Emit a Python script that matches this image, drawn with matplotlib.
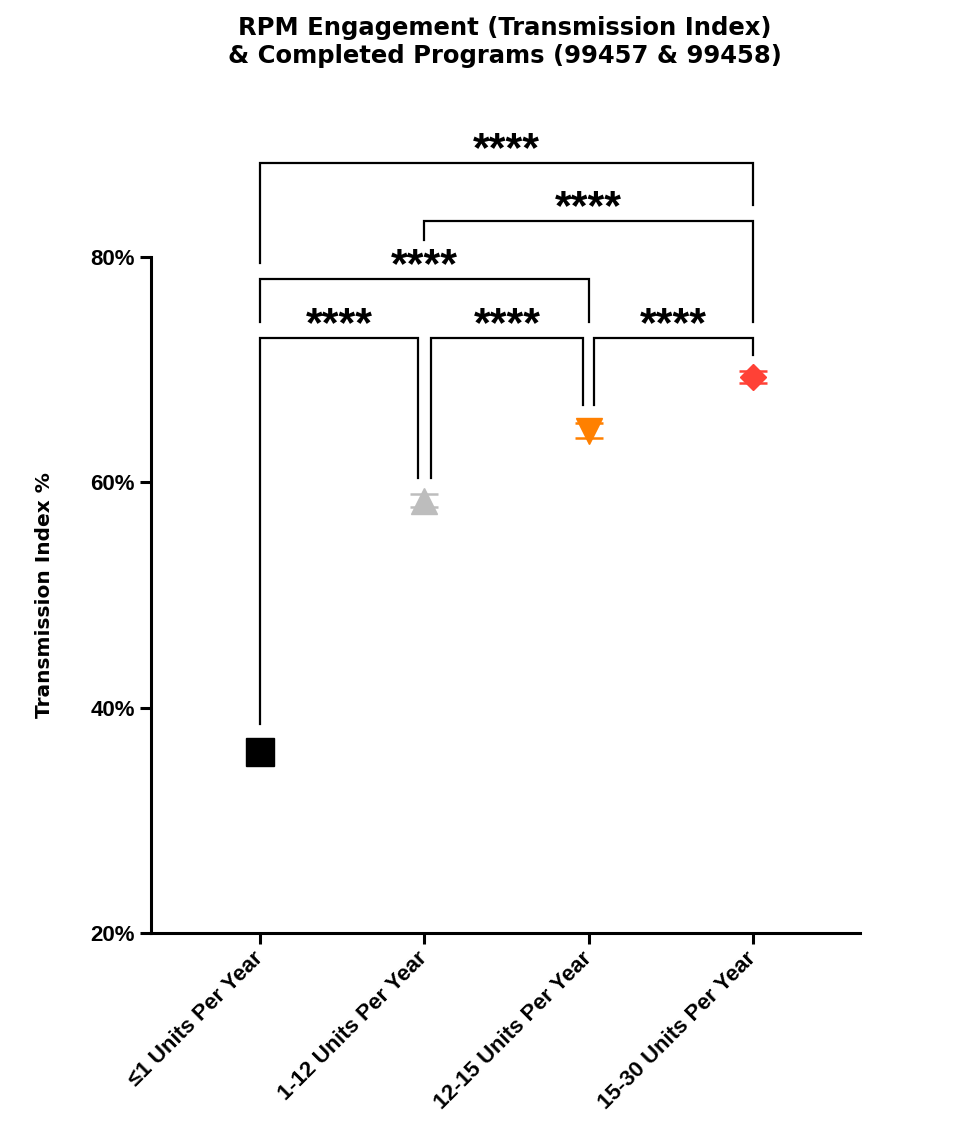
import matplotlib
matplotlib.use("Agg")
import matplotlib.pyplot as plt
from matplotlib import font_manager
from matplotlib.font_manager import FontProperties
from matplotlib.ticker import FuncFormatter

# groups and values (Transmission Index %)
groups = ["≤1 Units Per Year", "1-12 Units Per Year",
          "12-15 Units Per Year", "15-30 Units Per Year"]
means = [36.1, 58.35, 64.6, 69.35]
errs = [0.85, 0.58, 0.67, 0.53]
markers = ["s", "^", "v", "D"]
msizes = [20, 19, 19, 13]
colors = ["#000000", "#BDBDBD", "#FF8000", "#FF4136"]

# significance brackets: x1, x2, bar level, left leg end, right leg end, label
brackets = [
    (0.0, 0.962, 72.81, 38.55, 60.39, "****"),
    (1.04, 1.966, 72.81, 60.39, 66.87, "****"),
    (2.033, 3.0, 72.81, 66.87, 71.3, "****"),
    (0.0, 2.0, 78.05, 74.23, 74.23, "****"),
    (1.0, 3.0, 83.2, 81.5, 74.23, "****"),
    (0.0, 3.0, 88.35, 79.47, 84.62, "****"),
]


def arial_bold(size):
    # pick the regular-width Liberation Sans Bold, not the Narrow one
    for f in font_manager.fontManager.ttflist:
        if f.name == "Liberation Sans" and f.weight == 700 and f.style == "normal" \
                and "narrow" not in f.fname.lower():
            return FontProperties(fname=f.fname, size=size)
    return FontProperties(family="DejaVu Sans", weight="bold", size=size)


fig = plt.figure(figsize=(9.66, 11.3), dpi=100)
ax = fig.add_axes([151/966, 1-933/1130, (860-151)/966, (933-257)/1130])

for i in range(len(groups)):
    ax.errorbar(i, means[i], yerr=errs[i], fmt=markers[i], ms=msizes[i],
                color=colors[i], mec=colors[i], ecolor=colors[i],
                elinewidth=1.8, capsize=10, capthick=1.8, zorder=3)

star_fp = arial_bold(31)
for x1, x2, yb, yl, yr, lab in brackets:
    ax.plot([x1, x1, x2, x2], [yl, yb, yb, yr], color="black", lw=1.6,
            clip_on=False, solid_joinstyle="miter", zorder=2)
    ax.annotate(lab, xy=((x1+x2)/2, yb), xytext=(0, 1.5), textcoords="offset points",
                ha="center", va="baseline", fontproperties=star_fp,
                annotation_clip=False)

ax.set_xlim(-0.663, 3.65)
ax.set_ylim(20, 80)
ax.set_yticks([20, 40, 60, 80])
ax.yaxis.set_major_formatter(FuncFormatter(lambda v, p: f"{v:.0f}%"))
ax.set_xticks(range(len(groups)))
ax.set_xticklabels(groups, rotation=45, ha="right", va="center",
                   rotation_mode="anchor")

for s in ["top", "right"]:
    ax.spines[s].set_visible(False)
for s in ["left", "bottom"]:
    ax.spines[s].set_linewidth(2.2)
ax.tick_params(axis="both", width=2.2, length=8)
ax.tick_params(axis="x", pad=8)
tick_fp = arial_bold(16)
for lbl in ax.get_xticklabels() + ax.get_yticklabels():
    lbl.set_fontproperties(tick_fp)

ax.set_ylabel("Transmission Index %", fontsize=14.5, fontweight="bold",
              family="DejaVu Sans", labelpad=26)

fig.text(505/966, 1-42/1130, "RPM Engagement (Transmission Index)\n& Completed Programs (99457 & 99458)",
         ha="center", va="center", fontsize=17.5, fontweight="bold", family="DejaVu Sans",
         linespacing=1.2)

fig.savefig("out.png", dpi=100)
